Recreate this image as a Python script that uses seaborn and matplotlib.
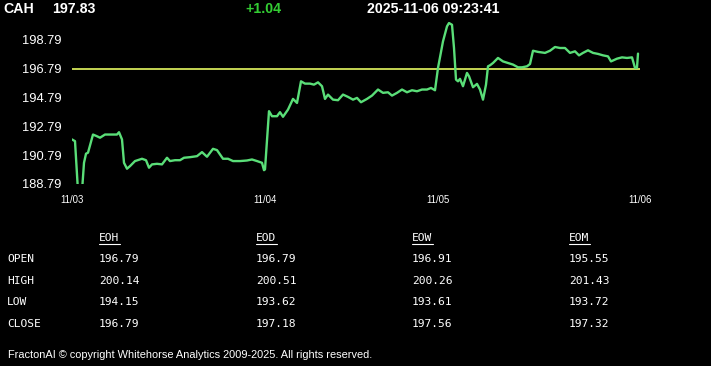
import matplotlib
matplotlib.use("Agg")
import matplotlib.pyplot as plt
import seaborn as sns
import pandas as pd

# ---- data ----
symbol = "CAH"
last_price = "197.83"
change = "+1.04"
timestamp = "2025-11-06 09:23:41"
ref_price = 196.79

bars = [0, 3, 6, 10, 12, 14, 16, 21, 25, 28, 33, 38, 45, 47, 50, 52, 55, 58, 63, 70,
        74, 77, 80, 85, 90, 95, 98, 103, 108, 112, 118, 125, 130, 135, 141, 145, 151, 156,
        161, 168, 175, 180, 185, 190, 192,
        193, 197, 200, 205, 208, 211, 216, 221, 225, 229, 233, 238, 242, 246, 250, 253,
        256, 261, 266, 271, 276, 281, 285, 289, 295, 300, 306, 311, 316, 320, 325, 330,
        335, 340, 345, 350, 355, 359, 363,
        366, 371, 375, 377, 380, 382, 384, 386, 388, 391, 395, 397, 401, 405, 408, 411,
        414, 416, 418, 421, 426, 431, 436, 441, 446, 450, 455, 458, 461, 466, 473, 478,
        483, 488, 493, 498, 503, 507, 511, 516, 521, 526, 531, 536, 539, 545, 550, 555,
        560, 563, 565, 566]
prices = [191.88, 191.76, 188.3, 188.3, 190.26, 190.89, 190.96, 192.22, 192.10, 192.00,
          192.22, 192.22, 192.22, 192.38, 191.88, 190.26, 189.85, 190.03, 190.38, 190.54,
          190.44, 189.92, 190.15, 190.19, 190.15, 190.61, 190.38, 190.44, 190.44, 190.61,
          190.65, 190.72, 191.00, 190.68, 191.23, 191.14, 190.54, 190.54, 190.38, 190.38,
          190.42, 190.49, 190.38, 190.26, 189.75,
          189.80, 193.84, 193.49, 193.49, 193.77, 193.45, 193.95, 194.69, 194.41, 195.91,
          195.75, 195.75, 195.68, 195.84, 195.57, 194.69, 194.99, 194.64, 194.60, 194.99,
          194.83, 194.64, 194.76, 194.46, 194.69, 194.92, 195.34, 195.11, 195.15, 194.92,
          195.11, 195.34, 195.15, 195.29, 195.22, 195.34, 195.34, 195.45, 195.29,
          196.84, 198.68, 199.72, 199.95, 199.83, 198.22, 196.03, 195.91, 196.08, 195.57,
          196.49, 196.26, 195.50, 195.73, 195.34, 194.64, 195.68, 196.95, 197.02, 197.18,
          197.53, 197.29, 197.18, 197.07, 196.88, 196.88, 196.95, 197.11, 198.03, 197.95,
          197.88, 198.03, 198.29, 198.22, 198.22, 197.88, 197.99, 197.71, 197.88, 198.06,
          197.88, 197.81, 197.71, 197.64, 197.29, 197.48, 197.57, 197.53, 197.57, 196.84,
          196.86, 197.83]

day_bars = [0, 193, 366, 568]
day_labels = ["11/03", "11/04", "11/05", "11/06"]
ytick_vals = [188.79, 190.79, 192.79, 194.79, 196.79, 198.79]

table_cols = ["EOH", "EOD", "EOW", "EOM"]
table_rows = ["OPEN", "HIGH", "LOW", "CLOSE"]
table_vals = [
    ["196.79", "196.79", "196.91", "195.55"],
    ["200.14", "200.51", "200.26", "201.43"],
    ["194.15", "193.62", "193.61", "193.72"],
    ["196.79", "197.18", "197.56", "197.32"],
]
footer = "FractonAI \u00a9 copyright Whitehorse Analytics 2009-2025. All rights reserved."

# ---- style ----
sns.set_style("dark")
plt.rcParams["font.family"] = ["Liberation Sans", "DejaVu Sans"]

W, H = 711, 366
fig = plt.figure(figsize=(W / 100, H / 100), dpi=100, facecolor="black")

def fx(px):
    return px / W

def fy(py):
    return 1 - py / H

ax = fig.add_axes([fx(72), fy(184), fx(640) - fx(72), fy(18) - fy(184)])
ax.set_facecolor("black")

df = pd.DataFrame({"bar": bars, "price": prices})
ax.axhline(ref_price, color="#d4e65a", lw=1.3, zorder=1)
sns.lineplot(data=df, x="bar", y="price", ax=ax, color="#5ade78", lw=1.7, zorder=2,
             solid_joinstyle="round", solid_capstyle="round")

ax.set_xlim(day_bars[0], day_bars[-1])
ax.set_ylim(188.79, 200.3)
ax.set_xlabel("")
ax.set_ylabel("")
for s in ax.spines.values():
    s.set_visible(False)
ax.grid(False)
ax.set_yticks(ytick_vals)
ax.set_yticklabels([f"{v:.2f}" for v in ytick_vals])
ax.tick_params(axis="y", length=0, pad=7.5, labelsize=9.3, labelcolor="white")
ax.set_xticks(day_bars)
ax.set_xticklabels(day_labels)
ax.tick_params(axis="x", length=3, width=1, color="white", pad=5,
               labelsize=6.9, labelcolor="white")

# header
hdr = dict(color="white", fontsize=10.2, fontweight="bold", va="center", ha="left")
fig.text(fx(3), fy(9), symbol, **hdr)
fig.text(fx(52), fy(9), last_price, **hdr)
fig.text(fx(245), fy(9), change, **{**hdr, "color": "#33cc33"})
fig.text(fx(367), fy(9), timestamp, **hdr)

# table
mono = dict(family="DejaVu Sans Mono", color="white", fontsize=8.1, va="center", ha="left")
col_x = [99, 256, 412, 569]
row_y = [259, 281, 302, 324]
for cx, name in zip(col_x, table_cols):
    fig.text(fx(cx), fy(238), name, **mono)
    fig.add_artist(plt.Line2D([fx(cx), fx(cx + 21)], [fy(244), fy(244)],
                              color="white", lw=0.8))
for ry, rname, vals in zip(row_y, table_rows, table_vals):
    fig.text(fx(7), fy(ry), rname, **mono)
    for cx, v in zip(col_x, vals):
        fig.text(fx(cx), fy(ry), v, **mono)

fig.text(fx(8), fy(355), footer, color="white", fontsize=7.9, va="center", ha="left")

fig.savefig("out.png", dpi=100, facecolor="black")
